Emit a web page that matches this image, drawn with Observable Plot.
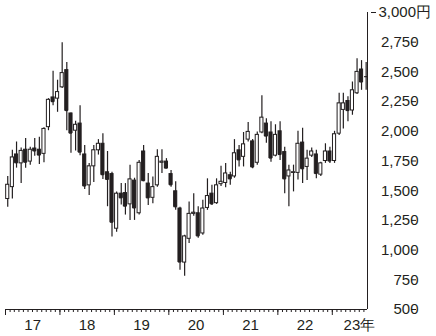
<!DOCTYPE html>
<html><head><meta charset="utf-8">
<script src="https://cdn.jsdelivr.net/npm/d3@7"></script>
<script src="https://cdn.jsdelivr.net/npm/@observablehq/plot@0.6"></script>
<style>
html,body{margin:0;padding:0;background:#fff;}
#chart svg{display:block;font-family:"Liberation Sans",Arial,Helvetica,sans-serif;}
</style></head>
<body><div id="chart"></div>
<script>
const months = [
"2017-01","2017-02","2017-03","2017-04","2017-05","2017-06","2017-07","2017-08","2017-09","2017-10","2017-11","2017-12",
"2018-01","2018-02","2018-03","2018-04","2018-05","2018-06","2018-07","2018-08","2018-09","2018-10","2018-11","2018-12",
"2019-01","2019-02","2019-03","2019-04","2019-05","2019-06","2019-07","2019-08","2019-09","2019-10","2019-11","2019-12",
"2020-01","2020-02","2020-03","2020-04","2020-05","2020-06","2020-07","2020-08","2020-09","2020-10","2020-11","2020-12",
"2021-01","2021-02","2021-03","2021-04","2021-05","2021-06","2021-07","2021-08","2021-09","2021-10","2021-11","2021-12",
"2022-01","2022-02","2022-03","2022-04","2022-05","2022-06","2022-07","2022-08","2022-09","2022-10","2022-11","2022-12",
"2023-01","2023-02","2023-03","2023-04","2023-05","2023-06","2023-07","2023-08"];
const open = [1430,1530,1805,1730,1845,1745,1855,1845,1810,2035,2285,2275,
2370,2515,2150,2005,2065,1805,1545,1705,1840,1895,1655,1640,
1180,1475,1480,1385,1585,1310,1830,1560,1440,1545,1735,1745,
1640,1495,1350,895,1095,1305,1310,1140,1355,1475,1395,1555,
1565,1630,1620,1840,1785,1930,1915,1735,1990,2065,1990,1795,
2000,1825,1620,1650,1650,1905,1700,1795,1805,1635,1750,1830,
1750,1980,2180,2255,2175,2320,2520,2460];
const high = [1620,1840,1910,1860,1940,1865,1940,1950,2030,2275,2505,2430,
2745,2580,2155,2085,2215,1880,1730,1880,1930,1980,1830,1655,
1490,1560,1560,1715,1605,1755,1880,1645,1615,1845,1845,1770,
1670,1575,1360,1125,1405,1475,1365,1420,1600,1545,1600,1705,
1730,1655,1930,1880,1990,2075,1930,1995,2300,2105,2080,2055,
2080,1865,1715,1715,2000,2025,1840,1860,1840,1740,1895,1865,
2000,2320,2320,2290,2415,2610,2595,2580];
const low = [1360,1430,1690,1560,1690,1715,1790,1720,1735,2005,2215,2160,
2360,2005,1815,1835,1795,1510,1460,1570,1800,1595,1365,1110,
1150,1380,1295,1250,1250,1295,1575,1375,1390,1530,1645,1685,
1530,1335,830,780,1055,1285,1100,1125,1335,1375,1385,1535,
1525,1545,1605,1700,1700,1910,1685,1715,1980,1900,1740,1785,
1755,1475,1365,1490,1590,1560,1585,1780,1600,1620,1730,1730,
1730,1965,2020,2080,2135,2310,2345,2345];
const close = [1550,1780,1735,1835,1740,1845,1835,1800,2020,2265,2250,2330,
2490,2175,1985,2055,1825,1540,1705,1840,1895,1635,1595,1235,
1475,1440,1370,1595,1355,1735,1585,1440,1530,1785,1745,1690,
1550,1365,900,1115,1305,1315,1120,1350,1455,1390,1545,1575,
1645,1600,1815,1760,1890,1995,1700,1970,2115,1960,1775,1970,
1805,1600,1670,1655,1895,1685,1770,1830,1645,1730,1830,1750,
1975,2235,2235,2175,2345,2500,2415,2460];
const yearStarts = ["2017","2018","2019","2020","2021","2022","2023"];
const yearLabels = ["17","18","19","20","21","22","23年"];
const yTicks = [500,750,1000,1250,1500,1750,2000,2250,2500,2750];
const yTopTick = 3000;

const DAY = 86400000;
const ink = "#231f20";
const data = months.map((m, i) => {
  const [y, mo] = m.split("-").map(Number);
  const t = Date.UTC(y, mo - 1, 16);
  return {t: new Date(t), x1: new Date(t - 10.5*DAY), x2: new Date(t + 10.5*DAY),
          open: open[i], high: high[i], low: low[i], close: close[i], up: close[i] >= open[i]};
});
const xStart = new Date(Date.UTC(2017,0,1));
const xEnd = new Date(Date.UTC(2023,7,25));
const monthTicks = d3.utcMonths(xStart, new Date(Date.UTC(2023,8,1))).filter(d => d <= xEnd);
const yearTicks = yearStarts.map(y => new Date(Date.UTC(+y,0,1)));
const years = yearStarts.map((y, i) => ({x: new Date(Date.UTC(+y,6,2)), label: yearLabels[i]}));

const chart = Plot.plot({
  width: 436, height: 336,
  marginLeft: 5, marginRight: 69, marginTop: 12, marginBottom: 27,
  style: {fontFamily: '"Liberation Sans",Arial,Helvetica,sans-serif', fontSize: "15px", color: ink, background: "white"},
  x: {type: "utc", domain: [xStart, xEnd], axis: null},
  y: {domain: [500, 3000], axis: null},
  marks: [
    Plot.ruleX(data, {x: "t", y1: "low", y2: "high", stroke: ink, strokeWidth: 1.2}),
    Plot.ruleY(data, {y: "close", x1: "x1", x2: "x2", stroke: ink, strokeWidth: 1.2}),
    Plot.rect(data, {x1: "x1", x2: "x2", y1: "open", y2: "close", fill: d => d.up ? "white" : ink, stroke: ink, strokeWidth: 1, inset: 0}),
    Plot.ruleY([500], {stroke: ink, strokeWidth: 1}),
    Plot.ruleX([xEnd], {y1: 500, y2: 3000, stroke: ink, strokeWidth: 1}),
    Plot.axisX({ticks: monthTicks, tickSize: 3, tickFormat: () => "", stroke: ink, anchor: "bottom"}),
    Plot.axisX({ticks: yearTicks, tickSize: 6, tickFormat: () => "", stroke: ink, anchor: "bottom"}),
    Plot.text(years, {x: "x", y: 500, text: "label", dy: 16, fill: ink, fontSize: 15}),
    Plot.axisY({ticks: yTicks, anchor: "right", tickSize: 5, tickPadding: 3, textAnchor: "end", dx: 43, tickFormat: d3.format(","), stroke: ink, fill: ink, fontSize: 15}),
    Plot.axisY({ticks: [yTopTick], anchor: "right", tickSize: 5, tickPadding: 3, textAnchor: "start", dx: 3, tickFormat: d => d3.format(",")(d) + "円", stroke: ink, fill: ink, fontSize: 15})
  ]
});
document.getElementById("chart").appendChild(chart);
</script>
</body></html>
